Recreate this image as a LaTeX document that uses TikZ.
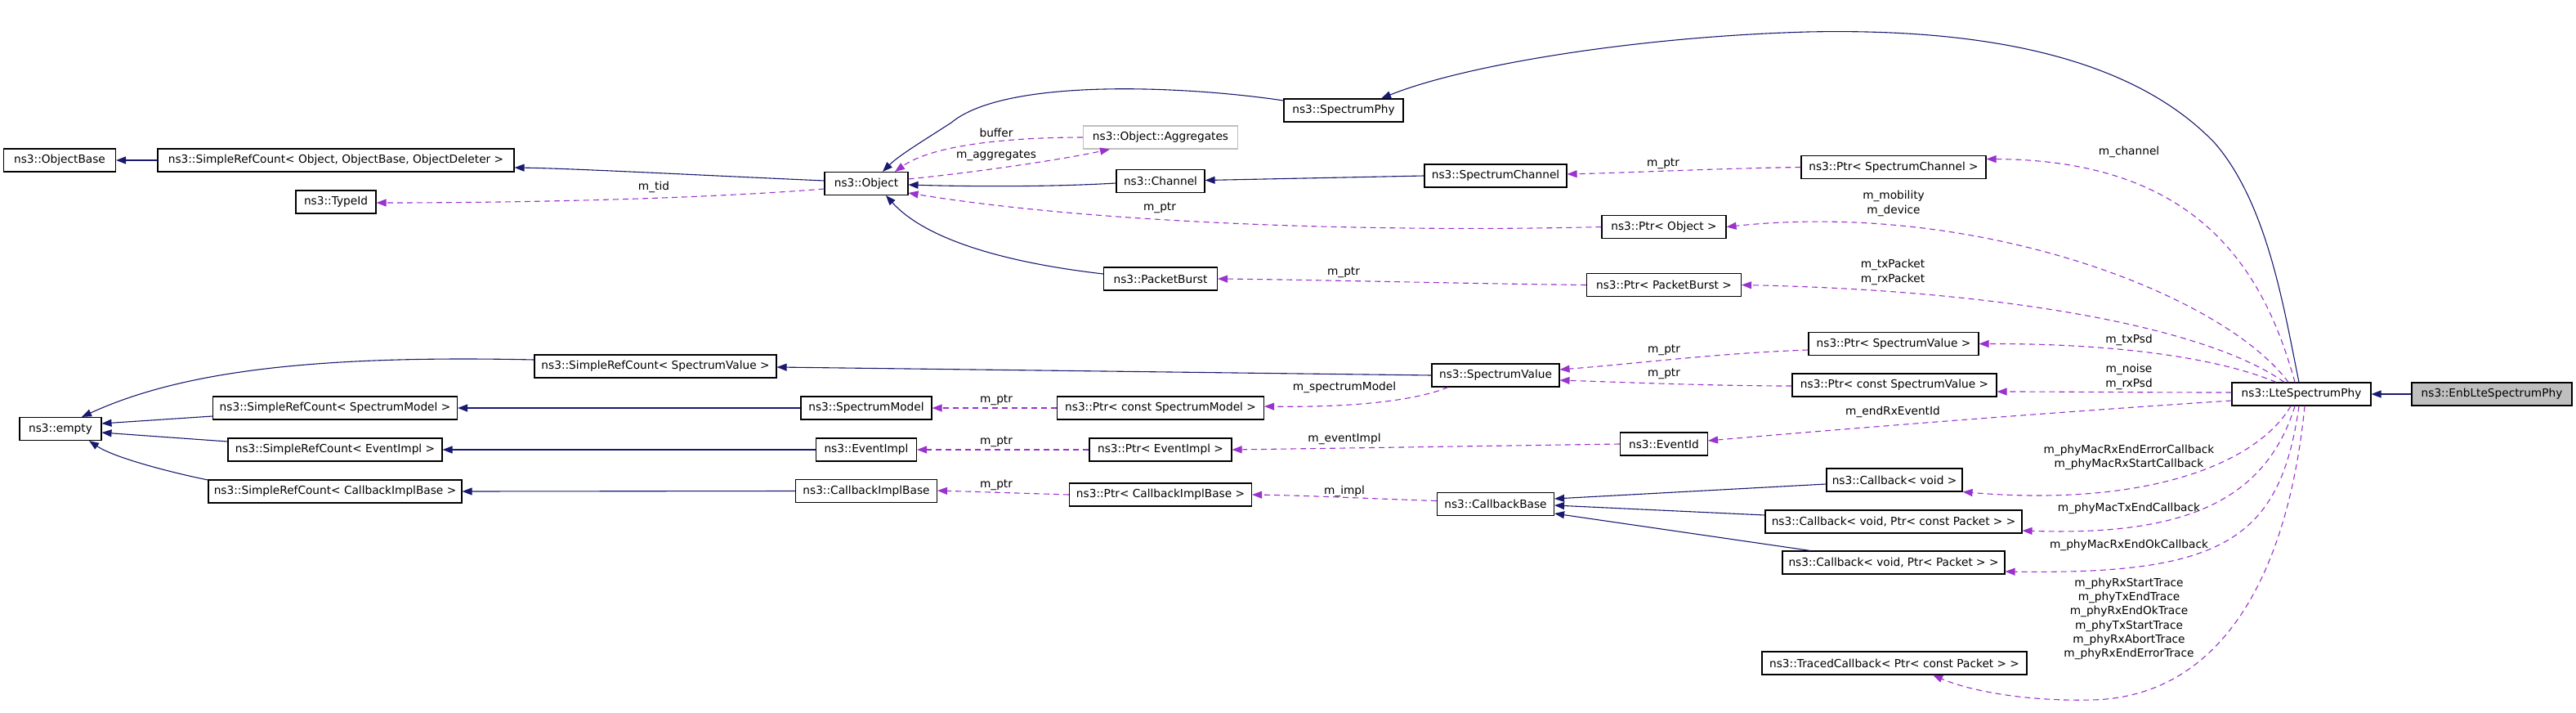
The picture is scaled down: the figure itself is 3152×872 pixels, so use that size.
\documentclass[tikz,border=0pt]{standalone}
\usepackage{fontspec}
\setmainfont{DejaVu Sans}
\usetikzlibrary{arrows.meta}
\definecolor{inhc}{HTML}{191970}
\definecolor{usec}{HTML}{9A32CD}
\definecolor{grayb}{HTML}{BFBFBF}
\begin{document}
\begin{tikzpicture}[x=1pt,y=-1pt,
 box/.style={draw=black,line width=1.1pt,fill=white,minimum height=28pt,inner sep=0pt,font=\fontsize{13.7}{17.3}\selectfont},
 lbl/.style={inner sep=0pt,align=center,font=\fontsize{13.7}{17.3}\selectfont},
 inh/.style={draw=inhc,line width=1.1pt,-{Triangle[length=12pt,width=9pt]}},
 use/.style={draw=usec,line width=1.1pt,dash pattern=on 7pt off 5pt,-{Triangle[length=12pt,width=9pt]}},
]
\useasboundingbox[fill=white] (0,0) rectangle (3152,872);
% nodes
\node[box,minimum width=137pt] (ObjectBase) at (73,196) {ns3::ObjectBase};
\node[box,minimum width=436pt] (SRCObj) at (411,196) {ns3::SimpleRefCount< Object, ObjectBase, ObjectDeleter >};
\node[box,minimum width=98pt] (TypeId) at (411,247) {ns3::TypeId};
\node[box,minimum width=102pt] (Object) at (1060,224.5) {ns3::Object};
\node[box,minimum width=189pt,draw=grayb] (Aggr) at (1420,168) {ns3::Object::Aggregates};
\node[box,minimum width=108pt] (Channel) at (1420,221.5) {ns3::Channel};
\node[box,minimum width=146pt] (SpectrumPhy) at (1644,135) {ns3::SpectrumPhy};
\node[box,minimum width=139pt] (PacketBurst) at (1420,341) {ns3::PacketBurst};
\node[box,minimum width=174pt] (SpectrumChannel) at (1830,215) {ns3::SpectrumChannel};
\node[box,minimum width=226pt] (PtrSC) at (2317,204.5) {ns3::Ptr< SpectrumChannel >};
\node[box,minimum width=152pt] (PtrObject) at (2036,277.5) {ns3::Ptr< Object >};
\node[box,minimum width=189pt] (PtrPB) at (2036,348.5) {ns3::Ptr< PacketBurst >};
\node[box,minimum width=100pt] (empty) at (74,524.5) {ns3::empty};
\node[box,minimum width=299pt] (SRCSM) at (410,499) {ns3::SimpleRefCount< SpectrumModel >};
\node[box,minimum width=262pt] (SRCEI) at (410,550) {ns3::SimpleRefCount< EventImpl >};
\node[box,minimum width=310pt] (SRCCIB) at (410,601) {ns3::SimpleRefCount< CallbackImplBase >};
\node[box,minimum width=296pt] (SRCSV) at (802,448) {ns3::SimpleRefCount< SpectrumValue >};
\node[box,minimum width=160pt] (SpectrumModel) at (1060,499) {ns3::SpectrumModel};
\node[box,minimum width=253pt] (PtrCSM) at (1420,499) {ns3::Ptr< const SpectrumModel >};
\node[box,minimum width=123pt] (EventImpl) at (1060,550) {ns3::EventImpl};
\node[box,minimum width=174pt] (PtrEI) at (1420,550) {ns3::Ptr< EventImpl >};
\node[box,minimum width=173pt] (CallbackImplBase) at (1060,600.5) {ns3::CallbackImplBase};
\node[box,minimum width=223pt] (PtrCIB) at (1420,605) {ns3::Ptr< CallbackImplBase >};
\node[box,minimum width=156pt] (SpectrumValue) at (1830,459) {ns3::SpectrumValue};
\node[box,minimum width=208pt] (PtrSV) at (2317,420.5) {ns3::Ptr< SpectrumValue >};
\node[box,minimum width=250pt] (PtrCSV) at (2318,471) {ns3::Ptr< const SpectrumValue >};
\node[box,minimum width=107pt] (EventId) at (2036,543) {ns3::EventId};
\node[box,minimum width=143pt] (CallbackBase) at (1830,616.5) {ns3::CallbackBase};
\node[box,minimum width=166pt] (CbVoid) at (2318,587) {ns3::Callback< void >};
\node[box,minimum width=314pt] (CbCP) at (2317,638) {ns3::Callback< void, Ptr< const Packet > >};
\node[box,minimum width=272pt] (CbP) at (2317,688) {ns3::Callback< void, Ptr< Packet > >};
\node[box,minimum width=324pt] (Traced) at (2318,811) {ns3::TracedCallback< Ptr< const Packet > >};
\node[box,minimum width=170pt] (Lte) at (2816,482) {ns3::LteSpectrumPhy};
\node[box,minimum width=196pt,fill=grayb] (Enb) at (3049,482) {ns3::EnbLteSpectrumPhy};
% inheritance
\draw[inh] (SRCObj.west) -- (ObjectBase.east);
\draw[inh] ([yshift=3.5pt]Object.west) .. controls (850,214) and (700,206) .. ([yshift=-9pt]SRCObj.east);
\draw[inh] ([yshift=-2.5pt]Channel.west) .. controls (1280,229) and (1180,228) .. ([yshift=-1.5pt]Object.east);
\draw[inh] ([yshift=12pt]SpectrumPhy.west) .. controls (1450,105) and (1230,95) .. (1164,150) .. controls (1130,172) and (1100,190) .. ([xshift=20pt]Object.north);
\draw[inh] ([yshift=6pt]PacketBurst.west) .. controls (1220,320) and (1130,290) .. ([xshift=24pt]Object.south);
\draw[inh] (SpectrumChannel.west) -- ([yshift=1pt]Channel.east);
\draw[inh] ([xshift=-3pt]Lte.north) .. controls (2795,380) and (2775,250) .. (2710,175) .. controls (2600,60) and (2400,35) .. (2212,39) .. controls (2000,45) and (1790,80) .. ([xshift=46pt]SpectrumPhy.north);
\draw[inh] (Enb.west) -- (Lte.east);
\draw[inh] ([yshift=8pt]SRCSV.west) .. controls (380,434) and (220,455) .. ([xshift=26pt]empty.north);
\draw[inh] ([yshift=-10pt]SRCSM.west) -- ([yshift=6.5pt]empty.east);
\draw[inh] ([yshift=10pt]SRCEI.west) -- ([yshift=-4.5pt]empty.east);
\draw[inh] ([yshift=14pt]SRCCIB.west) .. controls (210,578) and (140,560) .. ([xshift=35pt]empty.south);
\draw[inh] (SpectrumValue.west) -- ([yshift=-1pt]SRCSV.east);
\draw[inh] (SpectrumModel.west) -- (SRCSM.east);
\draw[inh] (EventImpl.west) -- (SRCEI.east);
\draw[inh] (CallbackImplBase.west) -- (SRCCIB.east);
\draw[inh] ([yshift=-5pt]CbVoid.west) -- ([yshift=6.5pt]CallbackBase.east);
\draw[inh] ([yshift=8pt]CbCP.west) -- ([yshift=-1.5pt]CallbackBase.east);
\draw[inh] ([xshift=-102pt]CbP.north) -- ([yshift=-11.5pt]CallbackBase.east);
% usage
\draw[use] ([yshift=-6.5pt]Object.west) .. controls (900,240) and (700,248) .. ([yshift=-1pt]TypeId.east);
\node[lbl] (lmtid) at (800,229) {m\_tid};
\draw[use] ([yshift=5.5pt]Object.east) .. controls (1200,210) and (1300,195) .. ([xshift=-62pt]Aggr.south);
\node[lbl] (lmagg) at (1219,190) {m\_aggregates};
\draw[use] (Aggr.west) .. controls (1230,168) and (1140,178) .. ([xshift=35pt]Object.north);
\node[lbl] (lbuf) at (1219,162) {buffer};
\draw[use] (PtrObject.west) .. controls (1700,284) and (1350,275) .. ([yshift=-11.5pt]Object.east);
\node[lbl] (lptrobj) at (1419,254) {m\_ptr};
\draw[use] (PtrPB.west) .. controls (1800,347) and (1600,342) .. (PacketBurst.east);
\node[lbl] (lptrpb) at (1644,333) {m\_ptr};
\draw[use] (PtrSC.west) .. controls (2100,206) and (2000,211) .. ([yshift=2pt]SpectrumChannel.east);
\node[lbl] (lptrsc) at (2035,200) {m\_ptr};
\draw[use] ([xshift=-8pt]Lte.north) .. controls (2770,330) and (2690,196) .. ([yshift=10pt]PtrSC.east);
\node[lbl] (lchan) at (2605,186) {m\_channel};
\draw[use] ([xshift=-16pt]Lte.north) .. controls (2720,360) and (2420,245) .. (PtrObject.east);
\node[lbl] (lmob) at (2317,249) {m\_mobility\\m\_device};
\draw[use] ([xshift=-21pt]Lte.north) .. controls (2700,400) and (2450,355) .. (PtrPB.east);
\node[lbl] (lpkt) at (2316,333) {m\_txPacket\\m\_rxPacket};
\draw[use] ([xshift=-31pt]Lte.north) .. controls (2720,440) and (2600,420) .. (PtrSV.east);
\node[lbl] (ltxpsd) at (2605,416) {m\_txPsd};
\draw[use] ([yshift=2pt]Lte.west) .. controls (2620,480) and (2520,479) .. ([yshift=-8pt]PtrCSV.east);
\node[lbl] (lnoise) at (2605,461) {m\_noise\\m\_rxPsd};
\draw[use] ([yshift=-8pt]Lte.west) .. controls (2500,505) and (2250,525) .. ([yshift=4pt]EventId.east);
\node[lbl] (lendrx) at (2316,504) {m\_endRxEventId};
\draw[use] ([xshift=-13pt]Lte.south) .. controls (2760,570) and (2620,620) .. (CbVoid.south east);
\node[lbl] (lrxerr) at (2605,559.5) {m\_phyMacRxEndErrorCallback\\m\_phyMacRxStartCallback};
\draw[use] ([xshift=-8pt]Lte.south) .. controls (2770,620) and (2660,655) .. ([yshift=-11pt]CbCP.east);
\node[lbl] (ltxend) at (2605,622) {m\_phyMacTxEndCallback};
\draw[use] ([xshift=-3pt]Lte.south) .. controls (2790,660) and (2720,703) .. ([yshift=-11pt]CbP.east);
\node[lbl] (lrxok) at (2605,667) {m\_phyMacRxEndOkCallback};
\draw[use] ([xshift=4pt]Lte.south) .. controls (2800,700) and (2720,852) .. (2560,856) .. controls (2480,858) and (2410,845) .. ([xshift=47pt]Traced.south);
\node[lbl] (ltrace) at (2605,757) {m\_phyRxStartTrace\\m\_phyTxEndTrace\\m\_phyRxEndOkTrace\\m\_phyTxStartTrace\\m\_phyRxAbortTrace\\m\_phyRxEndErrorTrace};
\draw[use] ([xshift=-58pt]SpectrumValue.south) .. controls (1720,495) and (1620,498) .. ([yshift=2pt]PtrCSM.east);
\node[lbl] (lsm) at (1645,474) {m\_spectrumModel};
\draw[use] (PtrCSM.west) -- (SpectrumModel.east);
\node[lbl] (lptrsm) at (1219,489) {m\_ptr};
\draw[use] (EventId.west) .. controls (1850,545) and (1650,548) .. (PtrEI.east);
\node[lbl] (levimpl) at (1645,537) {m\_eventImpl};
\draw[use] (PtrEI.west) -- (EventImpl.east);
\node[lbl] (lptrei) at (1219,540) {m\_ptr};
\draw[use] ([yshift=4pt]CallbackBase.west) .. controls (1680,610) and (1600,606) .. (PtrCIB.east);
\node[lbl] (limpl) at (1645,601) {m\_impl};
\draw[use] (PtrCIB.west) -- ([yshift=0.5pt]CallbackImplBase.east);
\node[lbl] (lptrcib) at (1219,593) {m\_ptr};
\draw[use] ([yshift=-7.5pt]PtrSV.west) .. controls (2100,432) and (2000,445) .. ([yshift=7pt]SpectrumValue.east);
\node[lbl] (lptrsv) at (2036,428) {m\_ptr};
\draw[use] ([yshift=-1pt]PtrCSV.west) .. controls (2100,472) and (2000,468) .. ([yshift=-6pt]SpectrumValue.east);
\node[lbl] (lptrcsv) at (2036,457) {m\_ptr};
\end{tikzpicture}
\end{document}
